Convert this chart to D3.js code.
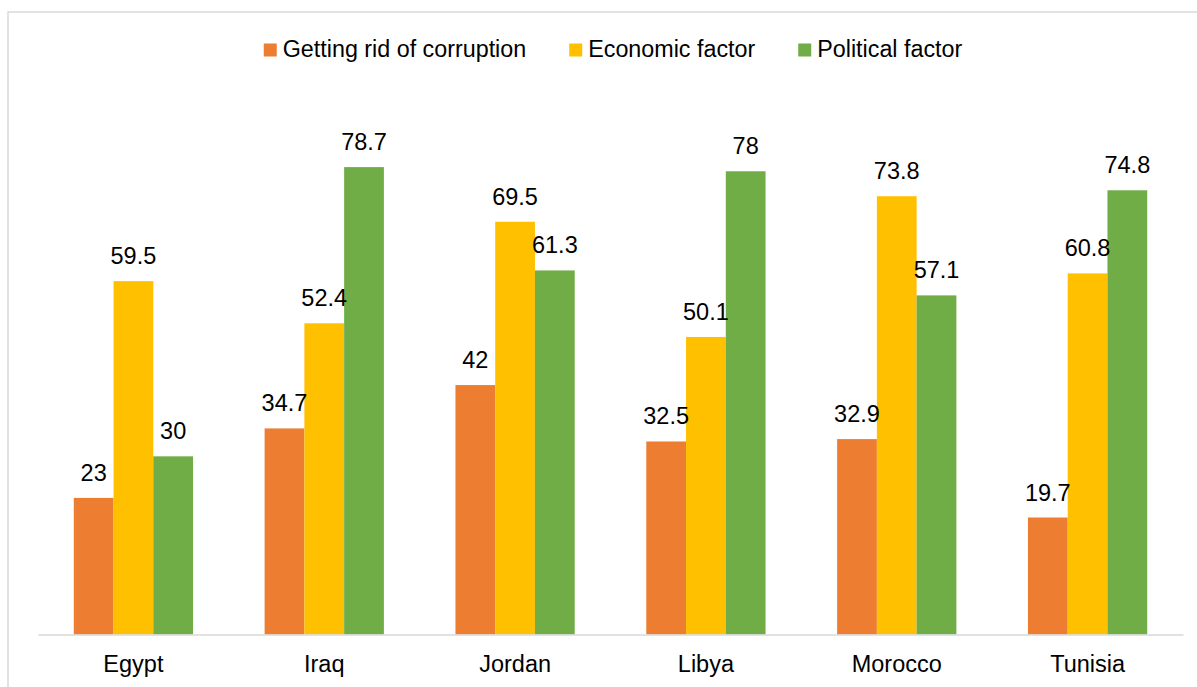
<!DOCTYPE html>
<html>
<head>
<meta charset="utf-8">
<script src="https://cdn.jsdelivr.net/npm/d3@7"></script>
<style>
  html, body { margin: 0; padding: 0; background: #fff; }
  svg { display: block; font-family: "Liberation Sans", Arial, sans-serif; }
</style>
</head>
<body>
<svg id="chart" width="1197" height="687"></svg>
<script>
const countries = ["Egypt", "Iraq", "Jordan", "Libya", "Morocco", "Tunisia"];
const seriesNames = ["Getting rid of corruption", "Economic factor", "Political factor"];
const corruption = [23, 34.7, 42, 32.5, 32.9, 19.7];
const economic = [59.5, 52.4, 69.5, 50.1, 73.8, 60.8];
const political = [30, 78.7, 61.3, 78, 57.1, 74.8];
const colors = ["#ED7D31", "#FFC000", "#70AD47"];

const seriesValues = [corruption, economic, political];
const data = countries.map((c, i) => ({
  country: c,
  values: seriesNames.map((s, j) => ({ series: s, idx: j, value: seriesValues[j][i] }))
}));

const svg = d3.select("#chart");
svg.append("rect").attr("width", 1197).attr("height", 687).attr("fill", "#fff");

// chart border
svg.append("rect")
  .attr("x", 8).attr("y", 12)
  .attr("width", 1300).attr("height", 800)
  .attr("fill", "none").attr("stroke", "#D9D9D9").attr("stroke-width", 1.5);

const x0 = d3.scaleBand().domain(countries).range([38, 1183]).padding(0);
const x1 = d3.scaleBand().domain(seriesNames).range([0, x0.bandwidth()]).paddingInner(0).paddingOuter(0.9);
const y = d3.scaleLinear().domain([0, 90]).range([634.5, 100]);

const groups = svg.append("g").selectAll("g").data(data).join("g")
  .attr("transform", d => `translate(${x0(d.country)},0)`);

groups.selectAll("rect").data(d => d.values).join("rect")
  .attr("x", d => x1(d.series))
  .attr("width", x1.bandwidth())
  .attr("y", d => y(d.value))
  .attr("height", d => y(0) - y(d.value))
  .attr("fill", d => colors[d.idx]);

groups.selectAll("text.val").data(d => d.values).join("text")
  .attr("class", "val")
  .attr("x", d => x1(d.series) + x1.bandwidth() / 2)
  .attr("y", d => y(d.value) - 17)
  .attr("text-anchor", "middle")
  .attr("font-size", 23.5)
  .attr("fill", "#000")
  .text(d => d.value);

// axis
const xAxis = d3.axisBottom(x0).tickSize(0).tickPadding(0);
const ax = svg.append("g").attr("transform", `translate(0,${y(0)})`).call(xAxis);
ax.select(".domain").attr("stroke", "#D9D9D9").attr("stroke-width", 1.5);
ax.selectAll("text")
  .attr("font-size", 23.5)
  .attr("font-family", "'Liberation Sans', Arial, sans-serif")
  .attr("fill", "#000")
  .attr("dy", null)
  .attr("y", 672 - y(0));

// legend
const legend = svg.append("g");
const items = legend.selectAll("g").data(seriesNames).join("g");
items.append("rect").attr("width", 13).attr("height", 13).attr("y", 43.5)
  .attr("fill", (d, i) => colors[i]);
items.append("text").attr("x", 19).attr("y", 57)
  .attr("font-size", 23.3).attr("fill", "#000").text(d => d);
let xpos = 0;
const positions = [];
items.each(function(d) {
  const w = d3.select(this).select("text").node().getComputedTextLength();
  positions.push(xpos);
  xpos += 19 + w + 43;
});
const total = xpos - 43;
const start = 613 - total / 2;
items.attr("transform", (d, i) => `translate(${start + positions[i]},0)`);
</script>
</body>
</html>
